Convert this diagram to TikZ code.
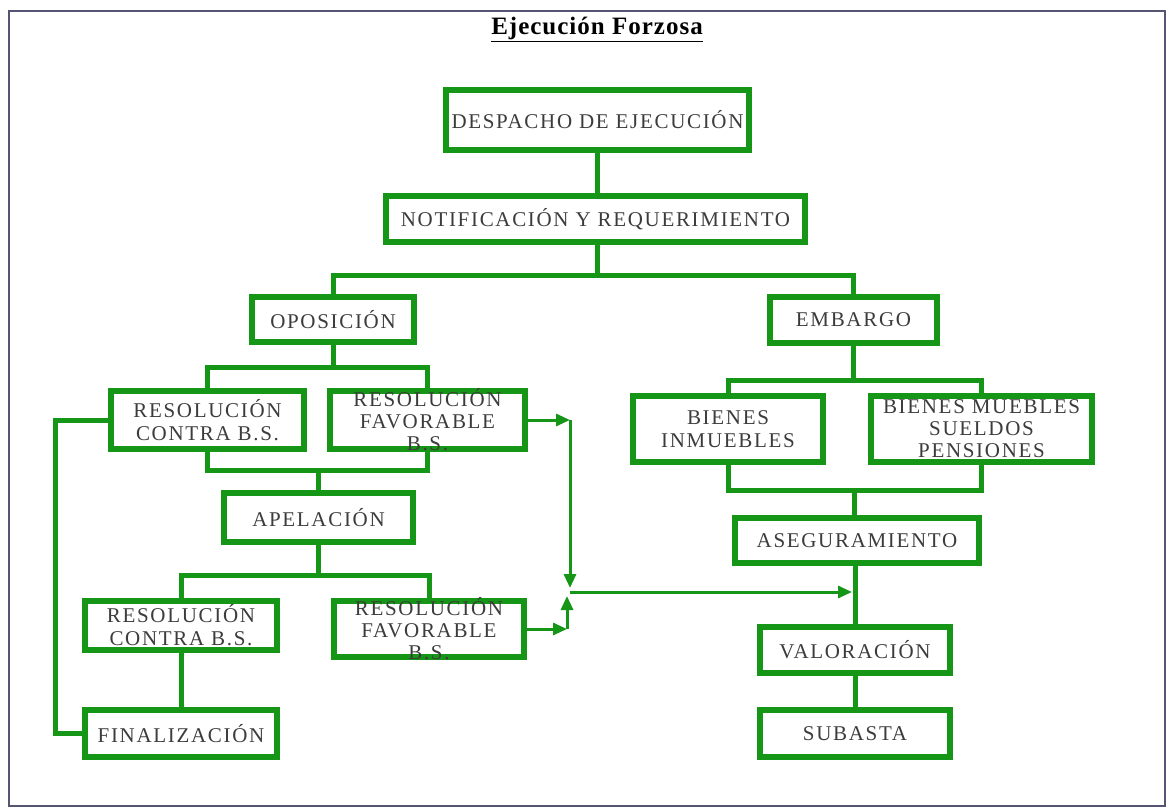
\documentclass[tikz,border=0pt]{standalone}
\usepackage{fontspec}
\setmainfont{Liberation Serif}
\newfontfamily\boxfont[LetterSpace=8]{Liberation Serif}
\newfontfamily\titlefont[LetterSpace=4]{Liberation Serif}
\usetikzlibrary{arrows.meta}
\definecolor{gr}{RGB}{22,150,22}
\definecolor{framecol}{RGB}{85,85,115}
\definecolor{ink}{RGB}{60,60,60}
\tikzset{
  box/.style={draw=gr, line width=6pt, rectangle, inner sep=0pt},
  lbl/.style={text=ink, font=\boxfont\fontsize{21}{23}\selectfont, align=center, inner sep=0pt},
  link/.style={draw=gr, line width=5pt},
  arr/.style={draw=gr, line width=3pt, -{Triangle[length=14pt,width=12pt]}},
}
\begin{document}
\begin{tikzpicture}[x=1pt,y=-1pt]
\useasboundingbox (0,0) rectangle (1167,809);
\fill[white] (0,0) rectangle (1167,809);
\draw[framecol, line width=2.5pt] (9,11) rectangle (1165,806);

% title
\node[font=\titlefont\bfseries\fontsize{25}{28}\selectfont, inner sep=0pt] (title) at (597,29) {\underline{Ejecución Forzosa}};

% boxes
\node[box, minimum width=303pt, minimum height=60pt] (desp) at (597.5,120) {};
\node[box, minimum width=419pt, minimum height=46pt] (notif) at (595.5,219) {};
\node[box, minimum width=162pt, minimum height=45pt] (opos) at (333,319.5) {};
\node[box, minimum width=167pt, minimum height=46pt] (emb) at (853.5,320) {};
\node[box, minimum width=193pt, minimum height=58pt] (rc1) at (207.5,420) {};
\node[box, minimum width=195pt, minimum height=58pt] (rf1) at (427.5,420) {};
\node[box, minimum width=189pt, minimum height=49pt] (apel) at (318.5,517.5) {};
\node[box, minimum width=192pt, minimum height=49pt] (rc2) at (181,625.5) {};
\node[box, minimum width=190pt, minimum height=56pt] (rf2) at (429,629) {};
\node[box, minimum width=192pt, minimum height=47pt] (fin) at (181,733.5) {};
\node[box, minimum width=190pt, minimum height=66pt] (bi) at (728,429) {};
\node[box, minimum width=221pt, minimum height=66pt] (bm) at (981.5,429) {};
\node[box, minimum width=244pt, minimum height=45pt] (aseg) at (857,540.5) {};
\node[box, minimum width=190pt, minimum height=46pt] (val) at (855,650) {};
\node[box, minimum width=190pt, minimum height=47pt] (sub) at (855,733.5) {};

% labels
\node[lbl] (despt) at (desp) {DESPACHO DE EJECUCIÓN};
\node[lbl] (notift) at (notif) {NOTIFICACIÓN Y REQUERIMIENTO};
\node[lbl] (opost) at (opos) {OPOSICIÓN};
\node[lbl] (embt) at (emb) {EMBARGO};
\node[lbl] (rc1t) at (rc1) {RESOLUCIÓN\\CONTRA B.S.};
\node[lbl, font=\boxfont\fontsize{21}{22}\selectfont] (rf1t) at (rf1) {RESOLUCIÓN\\FAVORABLE\\B.S.};
\node[lbl] (apelt) at (apel) {APELACIÓN};
\node[lbl] (rc2t) at (rc2) {RESOLUCIÓN\\CONTRA B.S.};
\node[lbl, font=\boxfont\fontsize{21}{22}\selectfont] (rf2t) at (rf2) {RESOLUCIÓN\\FAVORABLE\\B.S.};
\node[lbl] (fint) at (fin) {FINALIZACIÓN};
\node[lbl] (bit) at (bi) {BIENES\\INMUEBLES};
\node[lbl, font=\boxfont\fontsize{21}{22}\selectfont] (bmt) at (bm) {BIENES MUEBLES\\SUELDOS\\PENSIONES};
\node[lbl] (asegt) at (aseg) {ASEGURAMIENTO};
\node[lbl] (valt) at (val) {VALORACIÓN};
\node[lbl] (subt) at (sub) {SUBASTA};

% junction points of the tree connectors
\coordinate (t0) at (597,275);
\coordinate (t1) at (333,367);
\coordinate (t2) at (318.5,470);
\coordinate (t3) at (318.5,575);
\coordinate (t4) at (854.75,380);
\coordinate (t5) at (854.75,490);
\coordinate (lc) at (55,733.5);

% tree connectors
\draw[link] (desp.south) -- (desp.south |- notif.north);
\draw[link] (notif.south -| t0) -- (t0);
\draw[link] (opos.north) |- (t0) -| (emb.north);
\draw[link] (opos.south) -- (t1);
\draw[link] (rc1.north) |- (t1) -| (rf1.north);
\draw[link] (rc1.south) |- (t2) -| (rf1.south);
\draw[link] (t2) -- (apel.north);
\draw[link] (apel.south) -- (t3);
\draw[link] (rc2.north) |- (t3) -| (rf2.north);
\draw[link] (rc2.south) -- (fin.north);
\draw[link] (rc1.west) -| (lc) -- (fin.west);
\draw[link] (emb.south) -- (emb.south |- t4);
\draw[link] (bi.north) |- (t4) -| (bm.north);
\draw[link] (bi.south) |- (t5) -| (bm.south);
\draw[link] (t5) -- (t5 |- aseg.north);
\draw[link] (val.north |- aseg.south) -- (val.north);
\draw[link] (val.south) -- (sub.north);

% arrows of the favourable resolutions
\coordinate (c1) at (570,420);
\coordinate (c2) at (567,629);
\coordinate (jd) at (570,588);
\coordinate (ju) at (567,596);
\coordinate (js) at (570,592);
\coordinate (tgt) at (852,592);
\draw[arr] (rf1.east) -- (c1);
\draw[arr] (c1) -- (jd);
\draw[arr] (rf2.east) -- (c2);
\draw[arr] (c2) -- (ju);
\draw[arr] (js) -- (tgt);
\end{tikzpicture}
\end{document}
